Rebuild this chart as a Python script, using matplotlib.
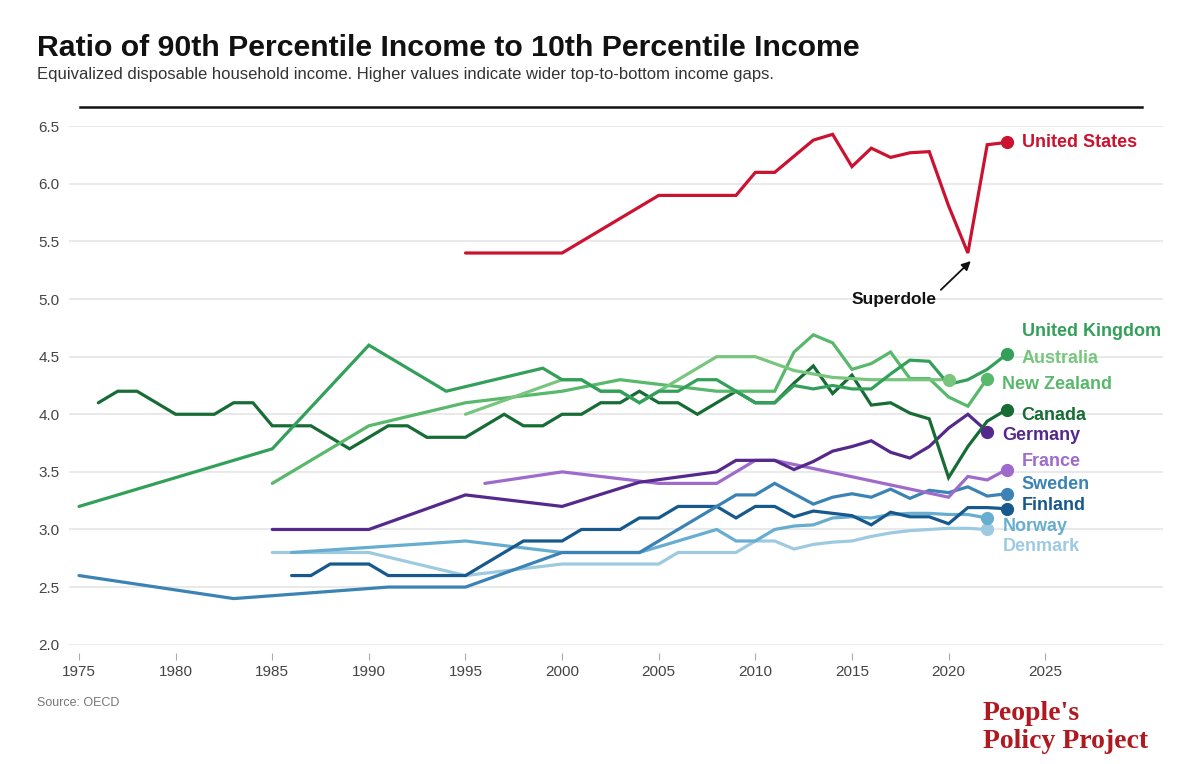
import matplotlib
matplotlib.use("Agg")
import matplotlib.pyplot as plt
from matplotlib.lines import Line2D

# ---------------- data ----------------
us_years = [1995, 2000, 2005, 2006, 2007, 2008, 2009, 2010, 2011, 2012, 2013, 2014, 2015, 2016, 2017, 2018, 2019, 2020, 2021, 2022, 2023]
us_vals  = [5.4, 5.4, 5.9, 5.9, 5.9, 5.9, 5.9, 6.1, 6.1, 6.24, 6.38, 6.43, 6.15, 6.31, 6.23, 6.27, 6.28, 5.81, 5.4, 6.34, 6.36]

uk_years = [1975, 1985, 1990, 1994, 1999, 2000, 2001, 2002, 2003, 2004, 2005, 2006, 2007, 2008, 2009, 2010, 2011, 2012, 2013, 2014, 2015, 2016, 2017, 2018, 2019, 2020, 2021, 2022, 2023]
uk_vals  = [3.2, 3.7, 4.6, 4.2, 4.4, 4.3, 4.3, 4.2, 4.2, 4.1, 4.2, 4.2, 4.3, 4.3, 4.2, 4.1, 4.1, 4.25, 4.22, 4.25, 4.22, 4.22, 4.35, 4.47, 4.46, 4.26, 4.3, 4.39, 4.52]

au_years = [1995, 2000, 2001, 2002, 2003, 2004, 2008, 2010, 2012, 2014, 2016, 2018, 2020]
au_vals  = [4.0, 4.3, 4.3, 4.2, 4.2, 4.1, 4.5, 4.5, 4.38, 4.32, 4.3, 4.3, 4.3]

nz_years = [1985, 1990, 1995, 2000, 2003, 2008, 2009, 2010, 2011, 2012, 2013, 2014, 2015, 2016, 2017, 2018, 2019, 2020, 2021, 2022]
nz_vals  = [3.4, 3.9, 4.1, 4.2, 4.3, 4.2, 4.2, 4.2, 4.2, 4.54, 4.69, 4.62, 4.39, 4.44, 4.54, 4.31, 4.31, 4.15, 4.07, 4.31]

ca_years = [1976, 1977, 1978, 1980, 1981, 1982, 1983, 1984, 1985, 1986, 1987, 1989, 1990, 1991, 1992, 1993, 1994, 1995, 1996, 1997, 1998, 1999,
            2000, 2001, 2002, 2003, 2004, 2005, 2006, 2007, 2008, 2009, 2010, 2011, 2012, 2013, 2014, 2015, 2016, 2017, 2018, 2019, 2020, 2021, 2022, 2023]
ca_vals  = [4.1, 4.2, 4.2, 4.0, 4.0, 4.0, 4.1, 4.1, 3.9, 3.9, 3.9, 3.7, 3.8, 3.9, 3.9, 3.8, 3.8, 3.8, 3.9, 4.0, 3.9, 3.9,
            4.0, 4.0, 4.1, 4.1, 4.2, 4.1, 4.1, 4.0, 4.1, 4.2, 4.1, 4.1, 4.27, 4.42, 4.18, 4.34, 4.08, 4.1, 4.01, 3.96, 3.45, 3.72, 3.94, 4.04]

de_years = [1985, 1990, 1995, 2000, 2004, 2008, 2009, 2010, 2011, 2012, 2013, 2014, 2015, 2016, 2017, 2018, 2019, 2020, 2021, 2022]
de_vals  = [3.0, 3.0, 3.3, 3.2, 3.41, 3.5, 3.6, 3.6, 3.6, 3.52, 3.59, 3.68, 3.72, 3.77, 3.67, 3.62, 3.72, 3.88, 4.0, 3.85]

fr_years = [1996, 2000, 2005, 2008, 2009, 2010, 2011, 2020, 2021, 2022, 2023]
fr_vals  = [3.4, 3.5, 3.4, 3.4, 3.5, 3.6, 3.6, 3.28, 3.46, 3.43, 3.52]

se_years = [1975, 1983, 1991, 1995, 2000, 2004, 2009, 2010, 2011, 2012, 2013, 2014, 2015, 2016, 2017, 2018, 2019, 2020, 2021, 2022, 2023]
se_vals  = [2.6, 2.4, 2.5, 2.5, 2.8, 2.8, 3.3, 3.3, 3.4, 3.31, 3.22, 3.28, 3.31, 3.28, 3.35, 3.27, 3.34, 3.32, 3.37, 3.29, 3.31]

fi_years = [1986, 1987, 1988, 1990, 1991, 1995, 1998, 2000, 2001, 2003, 2004, 2005, 2006, 2008, 2009, 2010, 2011, 2012, 2013, 2014, 2015, 2016, 2017, 2018, 2019, 2020, 2021, 2022, 2023]
fi_vals  = [2.6, 2.6, 2.7, 2.7, 2.6, 2.6, 2.9, 2.9, 3.0, 3.0, 3.1, 3.1, 3.2, 3.2, 3.1, 3.2, 3.2, 3.11, 3.16, 3.14, 3.12, 3.04, 3.15, 3.11, 3.11, 3.05, 3.19, 3.19, 3.18]

no_years = [1986, 1995, 2000, 2004, 2008, 2009, 2010, 2011, 2012, 2013, 2014, 2015, 2016, 2017, 2018, 2019, 2020, 2021, 2022]
no_vals  = [2.8, 2.9, 2.8, 2.8, 3.0, 2.9, 2.9, 3.0, 3.03, 3.04, 3.1, 3.11, 3.1, 3.13, 3.14, 3.14, 3.13, 3.13, 3.1]

dk_years = [1985, 1990, 1995, 2000, 2005, 2006, 2009, 2010, 2011, 2012, 2013, 2014, 2015, 2016, 2017, 2018, 2019, 2020, 2021, 2022]
dk_vals  = [2.8, 2.8, 2.6, 2.7, 2.7, 2.8, 2.8, 2.9, 2.9, 2.83, 2.87, 2.89, 2.9, 2.94, 2.97, 2.99, 3.0, 3.01, 3.01, 3.0]

x_ticks = [1975, 1980, 1985, 1990, 1995, 2000, 2005, 2010, 2015, 2020, 2025]
y_ticks = [2.0, 2.5, 3.0, 3.5, 4.0, 4.5, 5.0, 5.5, 6.0, 6.5]

# ---------------- style ----------------
series = [
    # name, years, values, color, label_x, label_y
    ("Denmark", dk_years, dk_vals, "#9ecae1", 2022.78, 2.85),
    ("Norway", no_years, no_vals, "#67adcf", 2022.78, 3.03),
    ("Finland", fi_years, fi_vals, "#17598c", 2023.78, 3.21),
    ("Sweden", se_years, se_vals, "#3a83b4", 2023.78, 3.39),
    ("France", fr_years, fr_vals, "#9e6acb", 2023.78, 3.59),
    ("Germany", de_years, de_vals, "#55298c", 2022.78, 3.82),
    ("Canada", ca_years, ca_vals, "#176c35", 2023.78, 3.99),
    ("New Zealand", nz_years, nz_vals, "#58b86b", 2022.78, 4.26),
    ("Australia", au_years, au_vals, "#78c67d", 2023.78, 4.48),
    ("United Kingdom", uk_years, uk_vals, "#33a05a", 2023.78, 4.72),
    ("United States", us_years, us_vals, "#cb1230", 2023.78, 6.36),
]

FONT = "Liberation Sans"
plt.rcParams["font.family"] = [FONT, "DejaVu Sans"]

fig = plt.figure(figsize=(12, 7.64), dpi=100)
ax = fig.add_axes([0.0575, 0.1562, 0.9117, 0.6785])

for name, yrs, vals, col, lx, ly in series:
    ax.plot(yrs, vals, color=col, lw=2.3, solid_joinstyle="miter", solid_capstyle="round", zorder=3, clip_on=False)
    ax.plot([yrs[-1]], [vals[-1]], "o", color=col, ms=8.5, zorder=4, clip_on=False)
    ax.text(lx, ly, name, color=col, fontsize=13, fontweight="bold", va="center", ha="left")

ax.set_xlim(1974.48, 2031.1)
ax.set_ylim(2.0, 6.5)
ax.set_xticks(x_ticks)
ax.set_yticks(y_ticks)
ax.set_yticklabels([f"{v:.1f}" for v in y_ticks])
ax.grid(axis="y", color="#e3e3e3", lw=1.1, zorder=0)
ax.set_axisbelow(True)
for s in ["top", "right", "left"]:
    ax.spines[s].set_visible(False)
ax.spines["bottom"].set_position(("outward", 6))
ax.spines["bottom"].set_visible(False)
ax.tick_params(axis="x", length=5, width=0.8, color="#aaaaaa", labelsize=11, labelcolor="#444444", pad=4)
ax.tick_params(axis="y", length=0, labelsize=11, labelcolor="#444444", pad=7)

# annotation
ax.annotate("", xy=(2021.15, 5.33), xytext=(2019.6, 5.08),
            arrowprops=dict(arrowstyle="-|>", color="#111111", lw=1.3, mutation_scale=13,
                            shrinkA=0, shrinkB=0))
ax.text(2017.2, 5.0, "Superdole", fontsize=12.5, fontweight="bold", color="#111111",
        ha="center", va="center")

# title block
fig.text(0.031, 1 - 48 / 764, "Ratio of 90th Percentile Income to 10th Percentile Income",
         fontsize=21.8, fontweight="bold", color="#111111", va="center", ha="left")
fig.text(0.031, 1 - 75 / 764, "Equivalized disposable household income. Higher values indicate wider top-to-bottom income gaps.",
         fontsize=12, color="#333333", va="center", ha="left")
fig.add_artist(Line2D([80 / 1200, 1142 / 1200], [1 - 107 / 764, 1 - 107 / 764],
                      transform=fig.transFigure, color="#111111", lw=1.8))

fig.text(0.031, 1 - 703 / 764, "Source: OECD", fontsize=9, color="#777777", va="center", ha="left")

fig.text(983 / 1200, 1 - 713 / 764, "People's", fontsize=20, fontweight="bold", color="#b0191f",
         family="Liberation Serif", va="center", ha="left")
fig.text(983 / 1200, 1 - 742 / 764, "Policy Project", fontsize=20, fontweight="bold", color="#b0191f",
         family="Liberation Serif", va="center", ha="left")

fig.savefig("out.png", dpi=100)
